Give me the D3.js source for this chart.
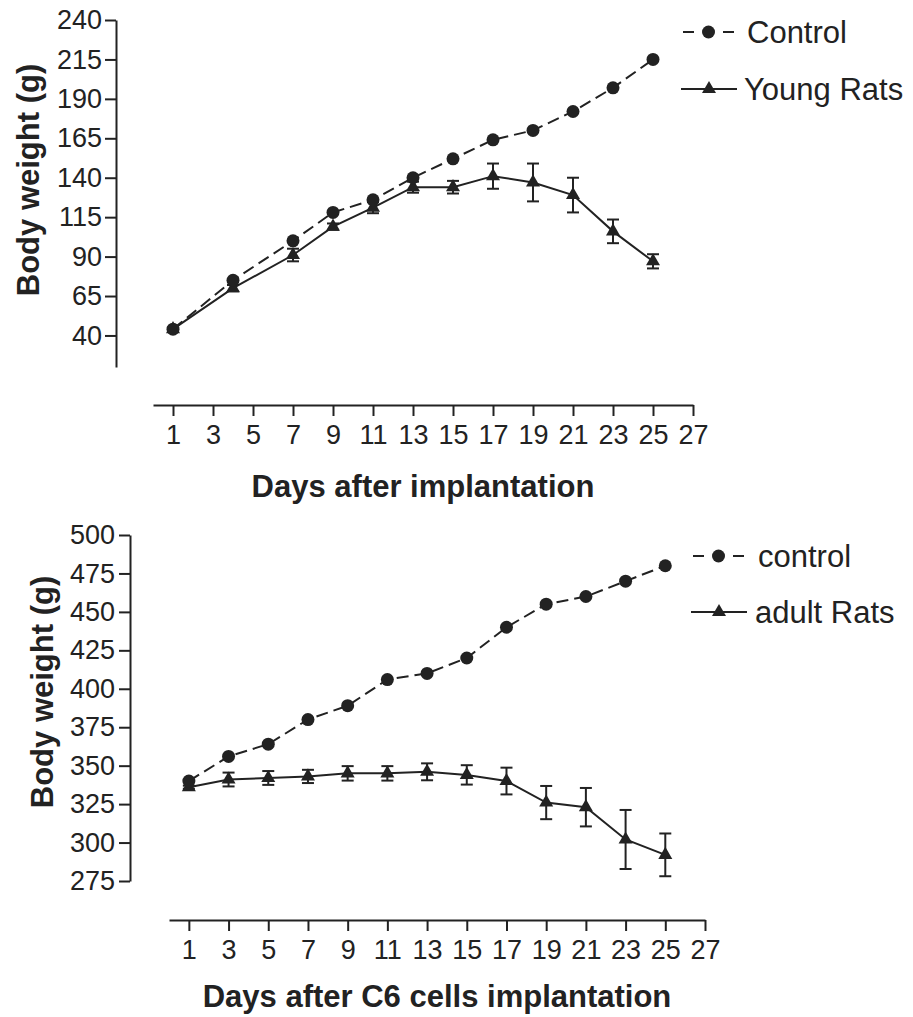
<!DOCTYPE html>
<html>
<head>
<meta charset="utf-8">
<script src="https://cdn.jsdelivr.net/npm/d3@7"></script>
<style>
	body { margin: 0; background: #fff; }
	svg { display: block; }
	text { font-family: "Liberation Sans", Arial, sans-serif; fill: #222; }
</style>
</head>
<body>
<div id="chart"></div>
<script>
	// top panel: young rats
	var youngDays = [1, 4, 7, 9, 11, 13, 15, 17, 19, 21, 23, 25];
	var youngControl = [44, 75, 100, 118, 126, 140, 152, 164, 170, 182, 197, 215];
	var youngRats = [44, 70, 91, 109, 121, 134, 134, 141, 137, 129, 106, 87];
	var youngErr = [1, 2, 4, 2, 3.5, 3.5, 4, 8, 12, 11, 7.5, 4.5];
	var youngTicks = [40, 65, 90, 115, 140, 165, 190, 215, 240];

	// bottom panel: adult rats
	var adultDays = [1, 3, 5, 7, 9, 11, 13, 15, 17, 19, 21, 23, 25];
	var adultControl = [340, 356, 364, 380, 389, 406, 410, 420, 440, 455, 460, 470, 480];
	var adultRats = [336, 341, 342, 343, 345, 345, 346, 344, 340, 326, 323, 302, 292];
	var adultErr = [1, 4.5, 4.5, 4.3, 4.7, 4.7, 5.5, 6.3, 8.7, 10.8, 12.5, 19.2, 13.9];
	var adultTicks = [275, 300, 325, 350, 375, 400, 425, 450, 475, 500];

	var dayTicks = [1, 3, 5, 7, 9, 11, 13, 15, 17, 19, 21, 23, 25, 27];

	var width = 913;
	var height = 1017;
	var ink = '#222';

	var svg = d3.select('#chart').append('svg').attr('width', width).attr('height', height);

	function drawPanel(p) {
		var g = svg.append('g');
		var x = d3.scaleLinear().domain([0, 27]).range([p.x0, p.x1]);
		var y = d3.scaleLinear().domain(p.yDomain).range([p.yBottom, p.yTop]);

		//axes
		var yAxis = g.append('g').attr('transform', 'translate(' + p.yAxisX + ',0)')
			.call(d3.axisLeft(y).tickValues(p.yTicks).tickSize(11).tickSizeOuter(0).tickPadding(p.yPad));
		var xAxis = g.append('g').attr('transform', 'translate(0,' + p.xAxisY + ')')
			.call(d3.axisBottom(x).tickValues(dayTicks).tickSize(11).tickSizeOuter(0).tickPadding(9));
		[yAxis, xAxis].forEach(function(a) {
			a.selectAll('path, line').attr('stroke', ink).attr('stroke-width', 2);
			a.selectAll('text').attr('fill', ink).style('font-size', '27px');
		});

		//axis titles
		g.append('text')
			.attr('transform', 'translate(' + p.yTitleX + ',' + p.yTitleY + ') rotate(-90)')
			.attr('text-anchor', 'middle').attr('dominant-baseline', 'central')
			.style('font-size', '31px').style('font-weight', 'bold')
			.text('Body weight (g)');
		g.append('text')
			.attr('x', (p.x0 + p.x1) / 2).attr('y', p.xTitleY)
			.attr('text-anchor', 'middle').attr('dominant-baseline', 'central')
			.style('font-size', '31px').style('font-weight', 'bold')
			.text(p.xTitle);

		var line = d3.line()
			.x(function(d) { return x(d[0]); })
			.y(function(d) { return y(d[1]); });

		var ctrl = p.days.map(function(d, i) { return [d, p.control[i]]; });
		var rats = p.days.map(function(d, i) { return [d, p.rats[i], p.err[i]]; });

		//control: dashed line with dots
		g.append('path').datum(ctrl).attr('d', line)
			.attr('fill', 'none').attr('stroke', ink).attr('stroke-width', 2)
			.attr('stroke-dasharray', '12,6');

		//rats: error bars, solid line, triangles
		var bars = g.selectAll('.err').data(rats).enter().append('g').attr('class', 'err');
		bars.append('line')
			.attr('x1', function(d) { return x(d[0]); }).attr('x2', function(d) { return x(d[0]); })
			.attr('y1', function(d) { return y(d[1] - d[2]); }).attr('y2', function(d) { return y(d[1] + d[2]); });
		bars.append('line')
			.attr('x1', function(d) { return x(d[0]) - 6; }).attr('x2', function(d) { return x(d[0]) + 6; })
			.attr('y1', function(d) { return y(d[1] + d[2]); }).attr('y2', function(d) { return y(d[1] + d[2]); });
		bars.append('line')
			.attr('x1', function(d) { return x(d[0]) - 6; }).attr('x2', function(d) { return x(d[0]) + 6; })
			.attr('y1', function(d) { return y(d[1] - d[2]); }).attr('y2', function(d) { return y(d[1] - d[2]); });
		bars.selectAll('line').attr('stroke', ink).attr('stroke-width', 2);

		g.append('path').datum(rats).attr('d', line)
			.attr('fill', 'none').attr('stroke', ink).attr('stroke-width', 2);

		var tri = d3.symbol().type(d3.symbolTriangle).size(85);
		g.selectAll('.tri').data(rats).enter().append('path').attr('class', 'tri')
			.attr('d', tri)
			.attr('transform', function(d) { return 'translate(' + x(d[0]) + ',' + y(d[1]) + ')'; })
			.attr('fill', ink);

		g.selectAll('.dot').data(ctrl).enter().append('circle').attr('class', 'dot')
			.attr('cx', function(d) { return x(d[0]); })
			.attr('cy', function(d) { return y(d[1]); })
			.attr('r', 6.5).attr('fill', ink);

		//legend
		var lx = p.legendX;
		var l1 = g.append('g').attr('transform', 'translate(' + lx + ',' + p.legendY[0] + ')');
		l1.append('line').attr('x1', 0).attr('x2', 11);
		l1.append('line').attr('x1', 40).attr('x2', 51);
		l1.selectAll('line').attr('stroke', ink).attr('stroke-width', 2);
		l1.append('circle').attr('cx', 25.5).attr('cy', 0).attr('r', 6.5).attr('fill', ink);
		l1.append('text').attr('x', p.legendTextX - lx).attr('dominant-baseline', 'central')
			.style('font-size', '31px').text(p.names[0]);

		var l2 = g.append('g').attr('transform', 'translate(' + (lx - 2) + ',' + p.legendY[1] + ')');
		l2.append('line').attr('x1', 0).attr('x2', 56).attr('stroke', ink).attr('stroke-width', 2);
		l2.append('path').attr('d', tri).attr('transform', 'translate(28,0)').attr('fill', ink);
		l2.append('text').attr('x', p.legendTextX - lx - 1).attr('dominant-baseline', 'central')
			.style('font-size', '31px').text(p.names[1]);
	}

	drawPanel({
		days: youngDays, control: youngControl, rats: youngRats, err: youngErr,
		yDomain: [20, 240], yTicks: youngTicks,
		yTop: 20, yBottom: 367, yAxisX: 116, yPad: 3,
		x0: 153, x1: 693, xAxisY: 405,
		yTitleX: 28, yTitleY: 180, xTitleY: 486,
		xTitle: 'Days after implantation',
		legendX: 683, legendY: [32, 89], legendTextX: 747,
		names: ['Control', 'Young Rats']
	});

	drawPanel({
		days: adultDays, control: adultControl, rats: adultRats, err: adultErr,
		yDomain: [275, 500], yTicks: adultTicks,
		yTop: 535, yBottom: 881, yAxisX: 130, yPad: 4,
		x0: 169, x1: 705, xAxisY: 920,
		yTitleX: 42, yTitleY: 692, xTitleY: 996,
		xTitle: 'Days after C6 cells implantation',
		legendX: 693, legendY: [556, 612], legendTextX: 758,
		names: ['control', 'adult Rats']
	});
</script>
</body>
</html>
